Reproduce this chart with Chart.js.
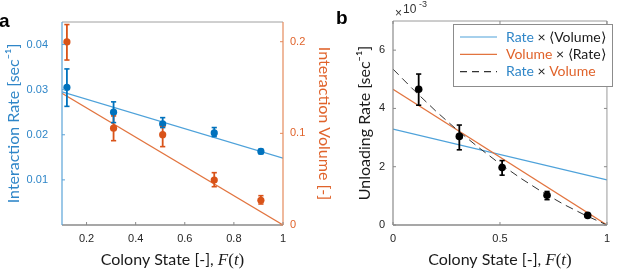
<!DOCTYPE html>
<html>
<head>
<meta charset="utf-8">
<script src="https://cdn.jsdelivr.net/npm/chart.js@4.4.0/dist/chart.umd.min.js"></script>
<style>
  html, body { margin: 0; padding: 0; background: #fff; }
  #wrap { position: relative; width: 617px; height: 271px; overflow: hidden; }
  #wrapA { position: absolute; left: 0; top: 0; width: 340px; height: 271px; }
  #wrapB { position: absolute; left: 330px; top: 0; width: 287px; height: 271px; }
</style>
</head>
<body>
<div id="wrap">
  <div id="wrapA"><canvas id="chartA" width="340" height="271"></canvas></div>
  <div id="wrapB"><canvas id="chartB" width="287" height="271"></canvas></div>
</div>
<script>
// ---- panel a: values ----
const colonyState = [0.12, 0.31, 0.51, 0.72, 0.91];
const rateMean = [0.0305, 0.0250, 0.0224, 0.0204, 0.0163];
const rateLow  = [0.0263, 0.0227, 0.0216, 0.0196, 0.0158];
const rateHigh = [0.0346, 0.0273, 0.0238, 0.0216, 0.0168];
const volumeMean = [0.1998, 0.1056, 0.0986, 0.0491, 0.0270];
const volumeLow  = [0.1800, 0.0920, 0.0855, 0.0418, 0.0229];
const volumeHigh = [0.2187, 0.1190, 0.1073, 0.0571, 0.0320];
const fitX = [0.1, 1];
const rateFit = [0.0295, 0.0148];
const volumeFit = [0.1438, 0];
const ticksAx = [0.2, 0.4, 0.6, 0.8, 1];
const ticksArate = [0.01, 0.02, 0.03, 0.04];
const ticksAvolume = [0, 0.1, 0.2];

// ---- panel b (unloading rate, x10^-3 sec^-1) ----
const unloadMean = [4.66, 3.04, 1.97, 1.02, 0.33];
const unloadLow  = [4.11, 2.58, 1.71, 0.87, 0.28];
const unloadHigh = [5.18, 3.43, 2.21, 1.15, 0.38];
const modelX = [0, 1];
const rateModel = [3.29, 1.55];
const volumeModel = [4.66, 0];
const productX = [0, 0.1, 0.2, 0.3, 0.4, 0.5, 0.6, 0.7, 0.8, 0.9, 1];
const productModel = [5.35, 4.61, 3.91, 3.26, 2.66, 2.10, 1.59, 1.12, 0.70, 0.33, 0];
const ticksBx = [0, 0.5, 1];
const ticksBy = [0, 2, 4, 6];

const BLUE = '#0072BD', ORANGE = '#D95319';
const BLUE_TXT = '#2F86C8', ORANGE_TXT = '#E0632B';
const BLUE_LINE = '#4EA2DA', ORANGE_LINE = '#E2743F';
const GRAY = '#8a8a8a';

Chart.defaults.font.family = '"Liberation Sans", Arial, sans-serif';
Chart.defaults.font.size = 11;
Chart.defaults.animation = false;

const pts = (xs, ys) => xs.map((x, i) => ({ x: x, y: ys[i] }));
const fmt = v => String(+(+v).toFixed(3));
const setTicks = list => scale => { scale.ticks = list.map(v => ({ value: v })); };

function seg(ctx, x1, y1, x2, y2, color, w) {
  ctx.beginPath();
  ctx.strokeStyle = color;
  ctx.lineWidth = w;
  ctx.moveTo(x1, y1);
  ctx.lineTo(x2, y2);
  ctx.stroke();
}

function drawErrorBars(chart, yId, xs, lows, highs, color) {
  const ctx = chart.ctx, sx = chart.scales.x, sy = chart.scales[yId];
  ctx.save();
  xs.forEach((v, i) => {
    const x = sx.getPixelForValue(v);
    const y1 = sy.getPixelForValue(lows[i]), y2 = sy.getPixelForValue(highs[i]);
    seg(ctx, x, y1, x, y2, color, 1.8);
    seg(ctx, x - 2.6, y1, x + 2.6, y1, color, 1.6);
    seg(ctx, x - 2.6, y2, x + 2.6, y2, color, 1.6);
  });
  ctx.restore();
}

// mixed font x axis title: "Colony State [-], F(t)"
function drawXTitle(chart) {
  const ctx = chart.ctx, a = chart.chartArea;
  const parts = [
    ['Colony State [-], ', '16px Lato'],
    ['F', 'italic 17px "Liberation Serif"'],
    ['(', '17px "Liberation Serif"'],
    ['t', 'italic 17px "Liberation Serif"'],
    [')', '17px "Liberation Serif"']
  ];
  ctx.save();
  ctx.fillStyle = '#1a1a1a';
  ctx.textBaseline = 'alphabetic';
  let total = 0;
  parts.forEach(p => { ctx.font = p[1]; total += ctx.measureText(p[0]).width; });
  let x = (a.left + a.right) / 2 - total / 2;
  parts.forEach(p => {
    ctx.font = p[1];
    ctx.fillText(p[0], x, 265);
    x += ctx.measureText(p[0]).width;
  });
  ctx.restore();
}

const panelA = {
  id: 'panelA',
  afterDatasetsDraw(chart) {
    const ctx = chart.ctx, a = chart.chartArea;
    drawErrorBars(chart, 'yVol', colonyState, volumeLow, volumeHigh, ORANGE);
    drawErrorBars(chart, 'yRate', colonyState, rateLow, rateHigh, BLUE);
    ctx.save();
    // frame
    seg(ctx, a.left, a.top, a.right, a.top, '#a0a0a0', 1);
    seg(ctx, a.left, a.bottom, a.right, a.bottom, GRAY, 1.6);
    seg(ctx, a.left, a.top, a.left, a.bottom, '#5aa3d8', 1.2);
    seg(ctx, a.right, a.top, a.right, a.bottom, '#e58a5c', 1.2);
    // inward tick marks
    ticksAx.forEach(v => {
      const x = chart.scales.x.getPixelForValue(v);
      seg(ctx, x, a.bottom, x, a.bottom - 3, GRAY, 1);
    });
    ticksArate.forEach(v => {
      const y = chart.scales.yRate.getPixelForValue(v);
      seg(ctx, a.left, y, a.left + 3, y, '#5aa3d8', 1);
    });
    ticksAvolume.forEach(v => {
      const y = chart.scales.yVol.getPixelForValue(v);
      seg(ctx, a.right, y, a.right - 3, y, '#e58a5c', 1);
    });
    // panel letter
    ctx.fillStyle = '#000';
    ctx.font = 'bold 19px "Liberation Sans"';
    ctx.textBaseline = 'alphabetic';
    ctx.fillText('a', -1, 27);
    ctx.restore();
    drawXTitle(chart);
  }
};

const legendRows = [
  { color: BLUE_LINE, dash: [], parts: [['Rate', BLUE_TXT], [' \u00d7 \u27e8Volume\u27e9', '#1a1a1a']] },
  { color: ORANGE_LINE, dash: [], parts: [['Volume', ORANGE_TXT], [' \u00d7 \u27e8Rate\u27e9', '#1a1a1a']] },
  { color: '#333', dash: [7, 5], parts: [['Rate', BLUE_TXT], [' \u00d7 ', '#1a1a1a'], ['Volume', ORANGE_TXT]] }
];

const panelB = {
  id: 'panelB',
  afterDatasetsDraw(chart) {
    const ctx = chart.ctx, a = chart.chartArea;
    drawErrorBars(chart, 'y', colonyState, unloadLow, unloadHigh, '#000');
    ctx.save();
    // frame
    seg(ctx, a.left, a.top, a.right, a.top, '#9a9a9a', 1);
    seg(ctx, a.right, a.top, a.right, a.bottom, '#9a9a9a', 1);
    seg(ctx, a.left, a.bottom, a.right, a.bottom, GRAY, 1.6);
    seg(ctx, a.left, a.top, a.left, a.bottom, GRAY, 1.2);
    ticksBx.forEach(v => {
      const x = chart.scales.x.getPixelForValue(v);
      seg(ctx, x, a.bottom, x, a.bottom - 3, GRAY, 1);
      seg(ctx, x, a.top, x, a.top + 3, GRAY, 1);
    });
    ticksBy.forEach(v => {
      const y = chart.scales.y.getPixelForValue(v);
      seg(ctx, a.left, y, a.left + 3, y, GRAY, 1);
      seg(ctx, a.right, y, a.right - 3, y, GRAY, 1);
    });
    // panel letter
    ctx.fillStyle = '#000';
    ctx.font = 'bold 19px "Liberation Sans"';
    ctx.textBaseline = 'alphabetic';
    ctx.fillText('b', 6, 24);
    // exponent label
    ctx.fillStyle = '#333';
    ctx.font = '12px "Liberation Sans"';
    ctx.fillText('\u00d7', a.left + 2, 17);
    ctx.fillText('10', a.left + 10, 13);
    ctx.font = '9px "Liberation Sans"';
    ctx.fillText('-3', a.left + 26, 7);
    // legend
    const lx = 123, ly = 24, lw = 159, lh = 62;
    ctx.fillStyle = '#fff';
    ctx.fillRect(lx, ly, lw, lh);
    ctx.strokeStyle = '#8c8c8c';
    ctx.lineWidth = 1;
    ctx.strokeRect(lx + 0.5, ly + 0.5, lw, lh);
    ctx.font = '14px Lato';
    ctx.textBaseline = 'middle';
    legendRows.forEach((r, i) => {
      const y = ly + 13 + i * 17.3;
      ctx.save();
      ctx.setLineDash(r.dash);
      seg(ctx, lx + 7, y, lx + 44, y, r.color, 1.2);
      ctx.restore();
      let x = lx + 53;
      r.parts.forEach(p => {
        ctx.fillStyle = p[1];
        ctx.fillText(p[0], x, y);
        x += ctx.measureText(p[0]).width;
      });
    });
    ctx.restore();
    drawXTitle(chart);
  }
};

new Chart(document.getElementById('chartA'), {
  type: 'scatter',
  data: {
    datasets: [
      { data: pts(colonyState, rateMean), yAxisID: 'yRate', backgroundColor: BLUE, borderWidth: 0, pointRadius: 3.6 },
      { data: pts(colonyState, volumeMean), yAxisID: 'yVol', backgroundColor: ORANGE, borderWidth: 0, pointRadius: 3.6 },
      { data: pts(fitX, rateFit), yAxisID: 'yRate', showLine: true, borderColor: BLUE_LINE, borderWidth: 1.2, pointRadius: 0 },
      { data: pts(fitX, volumeFit), yAxisID: 'yVol', showLine: true, borderColor: ORANGE_LINE, borderWidth: 1.2, pointRadius: 0 }
    ]
  },
  options: {
    responsive: false,
    layout: { padding: { top: 22, left: 0, right: 0, bottom: 0 } },
    plugins: { legend: { display: false }, tooltip: { enabled: false } },
    scales: {
      x: {
        type: 'linear', min: 0.1, max: 1,
        afterBuildTicks: setTicks(ticksAx),
        afterFit: s => { s.height = 46; },
        grid: { display: false, drawTicks: false },
        border: { display: false },
        ticks: { color: '#262626', padding: 7, callback: fmt, maxRotation: 0 }
      },
      yRate: {
        type: 'linear', position: 'left', min: 0, max: 0.045,
        afterBuildTicks: setTicks(ticksArate),
        afterFit: s => { s.width = 62; },
        grid: { display: false, drawTicks: false },
        border: { display: false },
        ticks: { color: BLUE_TXT, padding: 14, callback: fmt },
        title: { display: true, text: 'Interaction Rate [sec\u207b\u00b9]', color: BLUE_TXT,
                 font: { family: 'Lato', size: 16 }, padding: { top: 4, bottom: 0 } }
      },
      yVol: {
        type: 'linear', position: 'right', min: 0, max: 0.2215,
        afterBuildTicks: setTicks(ticksAvolume),
        afterFit: s => { s.width = 57; },
        grid: { display: false, drawTicks: false },
        border: { display: false },
        ticks: { color: ORANGE_TXT, padding: 7, callback: fmt },
        title: { display: true, text: 'Interaction Volume [-]', color: ORANGE_TXT,
                 font: { family: 'Lato', size: 16 }, padding: { top: 6, bottom: 0 } }
      }
    }
  },
  plugins: [panelA]
});

new Chart(document.getElementById('chartB'), {
  type: 'scatter',
  data: {
    datasets: [
      { data: pts(colonyState, unloadMean), backgroundColor: '#000', borderWidth: 0, pointRadius: 3.8 },
      { data: pts(productX, productModel), showLine: true, borderColor: '#333', borderDash: [8, 5], borderWidth: 1, pointRadius: 0 },
      { data: pts(modelX, volumeModel), showLine: true, borderColor: ORANGE_LINE, borderWidth: 1.2, pointRadius: 0 },
      { data: pts(modelX, rateModel), showLine: true, borderColor: BLUE_LINE, borderWidth: 1.2, pointRadius: 0 }
    ]
  },
  options: {
    responsive: false,
    layout: { padding: { top: 21, left: 0, right: 3, bottom: 0 } },
    plugins: { legend: { display: false }, tooltip: { enabled: false } },
    scales: {
      x: {
        type: 'linear', min: 0, max: 1,
        afterBuildTicks: setTicks(ticksBx),
        afterFit: s => { s.height = 46; },
        grid: { display: false, drawTicks: false },
        border: { display: false },
        ticks: { color: '#262626', padding: 7, callback: fmt, maxRotation: 0 }
      },
      y: {
        type: 'linear', position: 'left', min: 0, max: 7,
        afterBuildTicks: setTicks(ticksBy),
        afterFit: s => { s.width = 63; },
        grid: { display: false, drawTicks: false },
        border: { display: false },
        ticks: { color: '#262626', padding: 8, callback: fmt },
        title: { display: true, text: 'Unloading Rate [sec\u207b\u00b9]', color: '#1a1a1a',
                 font: { family: 'Lato', size: 16 }, padding: { top: 25, bottom: 0 } }
      }
    }
  },
  plugins: [panelB]
});
</script>
</body>
</html>
